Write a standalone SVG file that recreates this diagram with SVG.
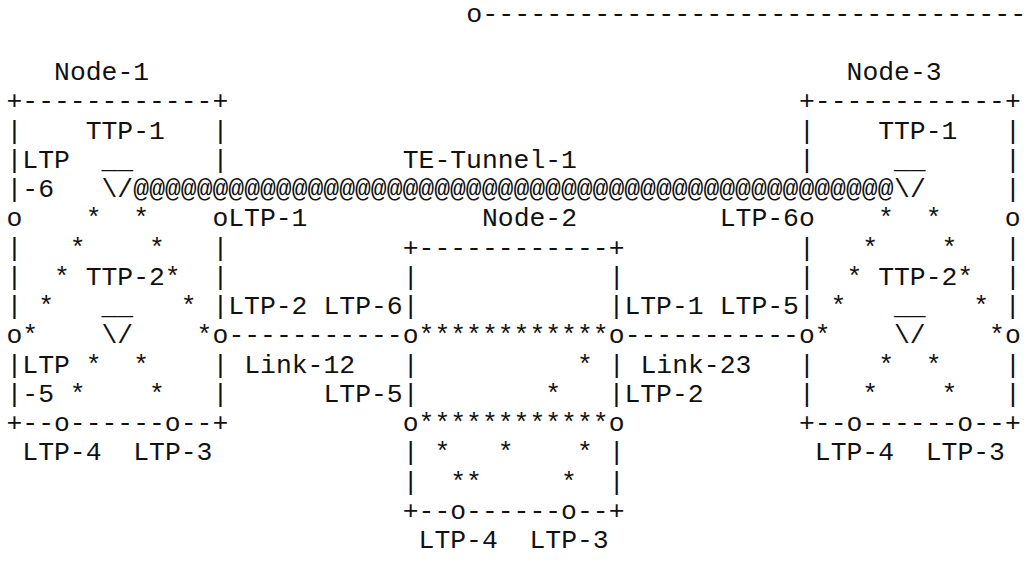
<svg xmlns="http://www.w3.org/2000/svg" width="1033" height="562" viewBox="0 0 1033 562" xml:space="preserve">
<style>
text { font-family: "Liberation Mono", "DejaVu Sans Mono", monospace; font-size: 26.4px; fill: #111; white-space: pre; }
</style>
<rect width="1033" height="562" fill="#fff"/>
<g id="connectors">
<text x="466.15" y="21.5" textLength="560" lengthAdjust="spacingAndGlyphs">o----------------------------------</text>
<text x="402.75" y="167.75">TE-Tunnel-1</text>
<text x="133.3" y="197">@@@@@@@@@@@@@@@@@@@@@@@@@@@@@@@@@@@@@@@@@@@@@@@@</text>
<text x="228.4" y="343.25">-----------</text>
<text x="624.65" y="343.25">-----------</text>
<text x="244.25" y="372.5">Link-12</text>
<text x="640.5" y="372.5">Link-23</text>
</g>
<g id="node-1">
<text x="54.05" y="80">Node-1</text>
<text x="6.5" y="109.25">+------------+</text>
<text x="6.5" y="138.5">|    TTP-1   |</text>
<text x="6.5" y="167.75">|LTP  __     |</text>
<text x="6.5" y="197">|-6   \/</text>
<text x="6.5" y="226.25">o    *  *    oLTP-1</text>
<text x="6.5" y="255.5">|   *    *   |</text>
<text x="6.5" y="284.75">|  * TTP-2*  |</text>
<text x="6.5" y="314">| *   __   * |LTP-2</text>
<text x="6.5" y="343.25">o*    \/    *o</text>
<text x="6.5" y="372.5">|LTP *  *    |</text>
<text x="6.5" y="401.75">|-5 *    *   |</text>
<text x="6.5" y="431">+--o------o--+</text>
<text x="22.35" y="460.25">LTP-4  LTP-3</text>
</g>
<g id="node-2">
<text x="482" y="226.25">Node-2</text>
<text x="402.75" y="255.5">+------------+</text>
<text x="402.75" y="284.75">|            |</text>
<text x="323.5" y="314">LTP-6|            |LTP-1</text>
<text x="402.75" y="343.25">o************o</text>
<text x="402.75" y="372.5">|          * |</text>
<text x="323.5" y="401.75">LTP-5|        *   |LTP-2</text>
<text x="402.75" y="431">o************o</text>
<text x="402.75" y="460.25">| *   *    * |</text>
<text x="402.75" y="489.5">|  **     *  |</text>
<text x="402.75" y="518.75">+--o------o--+</text>
<text x="418.6" y="548">LTP-4  LTP-3</text>
</g>
<g id="node-3">
<text x="846.55" y="80">Node-3</text>
<text x="799" y="109.25">+------------+</text>
<text x="799" y="138.5">|    TTP-1   |</text>
<text x="799" y="167.75">|     __     |</text>
<text x="894.1" y="197">\/     |</text>
<text x="719.75" y="226.25">LTP-6o    *  *    o</text>
<text x="799" y="255.5">|   *    *   |</text>
<text x="799" y="284.75">|  * TTP-2*  |</text>
<text x="719.75" y="314">LTP-5| *   __   * |</text>
<text x="799" y="343.25">o*    \/    *o</text>
<text x="799" y="372.5">|    *  *    |</text>
<text x="799" y="401.75">|   *    *   |</text>
<text x="799" y="431">+--o------o--+</text>
<text x="814.85" y="460.25">LTP-4  LTP-3</text>
</g>
</svg>
